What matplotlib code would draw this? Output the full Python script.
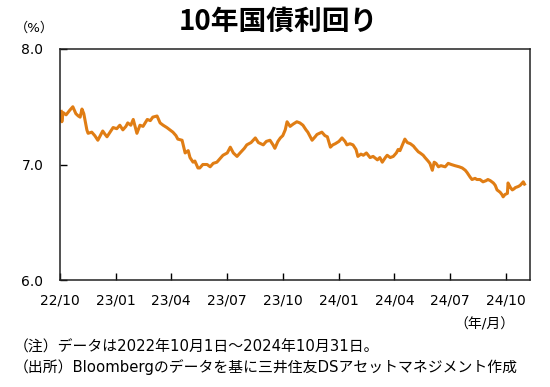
import matplotlib
matplotlib.use("Agg")
import matplotlib.pyplot as plt
import pandas as pd

plt.rcParams['font.family'] = ['DejaVu Sans', 'Noto Sans CJK JP']

dates = [
    "2022-10-03", "2022-10-04", "2022-10-06", "2022-10-11", "2022-10-17", "2022-10-22",
    "2022-10-27", "2022-10-31", "2022-11-03", "2022-11-06", "2022-11-09", "2022-11-14",
    "2022-11-16", "2022-11-22", "2022-11-27", "2022-12-02", "2022-12-06", "2022-12-10",
    "2022-12-14", "2022-12-17", "2022-12-22", "2022-12-27", "2023-01-02", "2023-01-07",
    "2023-01-12", "2023-01-17", "2023-01-20", "2023-01-25", "2023-01-29", "2023-02-04",
    "2023-02-09", "2023-02-14", "2023-02-21", "2023-02-26", "2023-03-02", "2023-03-09",
    "2023-03-14", "2023-03-19", "2023-03-25", "2023-03-30", "2023-04-04", "2023-04-09",
    "2023-04-12", "2023-04-19", "2023-04-24", "2023-04-29", "2023-05-02", "2023-05-07",
    "2023-05-10", "2023-05-15", "2023-05-18", "2023-05-23", "2023-05-30", "2023-06-04",
    "2023-06-09", "2023-06-15", "2023-06-20", "2023-06-25", "2023-07-02", "2023-07-07",
    "2023-07-12", "2023-07-18", "2023-07-23", "2023-07-30", "2023-08-03", "2023-08-10",
    "2023-08-17", "2023-08-22", "2023-08-30", "2023-09-04", "2023-09-10", "2023-09-15",
    "2023-09-18", "2023-09-23", "2023-09-27", "2023-10-01", "2023-10-05", "2023-10-08",
    "2023-10-13", "2023-10-18", "2023-10-24", "2023-10-29", "2023-11-03", "2023-11-08",
    "2023-11-11", "2023-11-18", "2023-11-23", "2023-11-26", "2023-12-04", "2023-12-09",
    "2023-12-13", "2023-12-18", "2023-12-22", "2023-12-26", "2024-01-01", "2024-01-06",
    "2024-01-11", "2024-01-14", "2024-01-19", "2024-01-24", "2024-01-29", "2024-02-01",
    "2024-02-06", "2024-02-10", "2024-02-15", "2024-02-21", "2024-02-26", "2024-03-04",
    "2024-03-08", "2024-03-12", "2024-03-17", "2024-03-20", "2024-03-25", "2024-03-30",
    "2024-04-04", "2024-04-07", "2024-04-10", "2024-04-14", "2024-04-18", "2024-04-22",
    "2024-04-27", "2024-05-02", "2024-05-05", "2024-05-10", "2024-05-13", "2024-05-18",
    "2024-05-21", "2024-05-26", "2024-05-29", "2024-06-02", "2024-06-05", "2024-06-08",
    "2024-06-12", "2024-06-16", "2024-06-23", "2024-06-28", "2024-07-03", "2024-07-09",
    "2024-07-16", "2024-07-21", "2024-07-26", "2024-07-29", "2024-08-03", "2024-08-06",
    "2024-08-11", "2024-08-14", "2024-08-19", "2024-08-24", "2024-08-29", "2024-09-01",
    "2024-09-05", "2024-09-10", "2024-09-13", "2024-09-16", "2024-09-21", "2024-09-24",
    "2024-09-26", "2024-09-29", "2024-10-03", "2024-10-04", "2024-10-08", "2024-10-11",
    "2024-10-14", "2024-10-16", "2024-10-21", "2024-10-24", "2024-10-29", "2024-10-31",
]

yields = [
    7.46, 7.37, 7.45, 7.43, 7.47, 7.50,
    7.44, 7.42, 7.41, 7.48, 7.44, 7.30,
    7.27, 7.28, 7.25, 7.21, 7.25, 7.29,
    7.26, 7.24, 7.28, 7.32, 7.31, 7.34,
    7.30, 7.33, 7.36, 7.34, 7.39, 7.27,
    7.34, 7.33, 7.39, 7.38, 7.41, 7.42,
    7.36, 7.34, 7.32, 7.30, 7.28, 7.25,
    7.22, 7.21, 7.10, 7.12, 7.06, 7.02,
    7.03, 6.97, 6.97, 7.00, 7.00, 6.98,
    7.01, 7.02, 7.05, 7.08, 7.10, 7.15,
    7.10, 7.07, 7.10, 7.14, 7.17, 7.19,
    7.23, 7.19, 7.17, 7.20, 7.21, 7.17,
    7.14, 7.20, 7.23, 7.25, 7.30, 7.37,
    7.33, 7.35, 7.37, 7.36, 7.34, 7.30,
    7.28, 7.21, 7.24, 7.26, 7.28, 7.25,
    7.24, 7.15, 7.17, 7.18, 7.20, 7.23,
    7.20, 7.17, 7.18, 7.17, 7.13, 7.07,
    7.09, 7.08, 7.10, 7.06, 7.07, 7.04,
    7.06, 7.02, 7.06, 7.08, 7.06, 7.07,
    7.10, 7.13, 7.12, 7.17, 7.22, 7.19,
    7.18, 7.16, 7.14, 7.11, 7.10, 7.08,
    7.06, 7.03, 7.01, 6.95, 7.02, 7.01,
    6.98, 6.99, 6.98, 7.01, 7.00, 6.99,
    6.98, 6.97, 6.95, 6.93, 6.89, 6.87,
    6.88, 6.87, 6.87, 6.85, 6.86, 6.87,
    6.86, 6.84, 6.82, 6.78, 6.76, 6.74,
    6.72, 6.74, 6.75, 6.84, 6.80, 6.78,
    6.79, 6.80, 6.81, 6.82, 6.85, 6.83,
]

xtick_dates = ["2022-10-01", "2023-01-01", "2023-04-01", "2023-07-01", "2023-10-01",
               "2024-01-01", "2024-04-01", "2024-07-01", "2024-10-01"]
xtick_labels = ["22/10", "23/01", "23/04", "23/07", "23/10", "24/01", "24/04", "24/07", "24/10"]
yticks = [6.0, 7.0, 8.0]
ytick_labels = ["6.0", "7.0", "8.0"]

title = "10年国債利回り"
note1 = "（注）データは2022年10月1日～2024年10月31日。"
note2 = "（出所）Bloombergのデータを基に三井住友DSアセットマネジメント作成"

x = pd.to_datetime(dates)

fig = plt.figure(figsize=(5.5, 3.87), dpi=100)
ax = fig.add_axes([60/550, 1-280/387, 470/550, 231/387])
ax.plot(x, yields, color="#E07D14", lw=2.2, solid_joinstyle="round")

ax.set_ylim(6.0, 8.0)
ax.set_xlim(pd.Timestamp("2022-10-01"), pd.Timestamp("2024-11-09"))
ax.set_yticks(yticks)
ax.set_yticklabels(ytick_labels, fontsize=10)
ax.set_xticks(pd.to_datetime(xtick_dates))
ax.set_xticklabels(xtick_labels, fontsize=10)
ax.tick_params(axis="x", direction="in", length=5, width=1, pad=10, colors="black")
ax.tick_params(axis="y", direction="in", length=5, width=1, pad=12, colors="black")
for s in ax.spines.values():
    s.set_linewidth(1.1)
    s.set_color("#222222")

fig.text(278/550, 1-22/387, title, ha="center", va="center", fontsize=20,
         fontweight="bold", family=['Noto Sans CJK JP', 'DejaVu Sans'])
fig.text(34/550, 1-28/387, "（%）", ha="center", va="center", fontsize=9.5)
fig.text(515/550, 1-324/387, "（年/月）", ha="right", va="center", fontsize=10)
fig.text(14/550, 1-347/387, note1, ha="left", va="center", fontsize=10.7)
fig.text(14/550, 1-367/387, note2, ha="left", va="center", fontsize=10.7)

fig.savefig("out.png", dpi=100)
